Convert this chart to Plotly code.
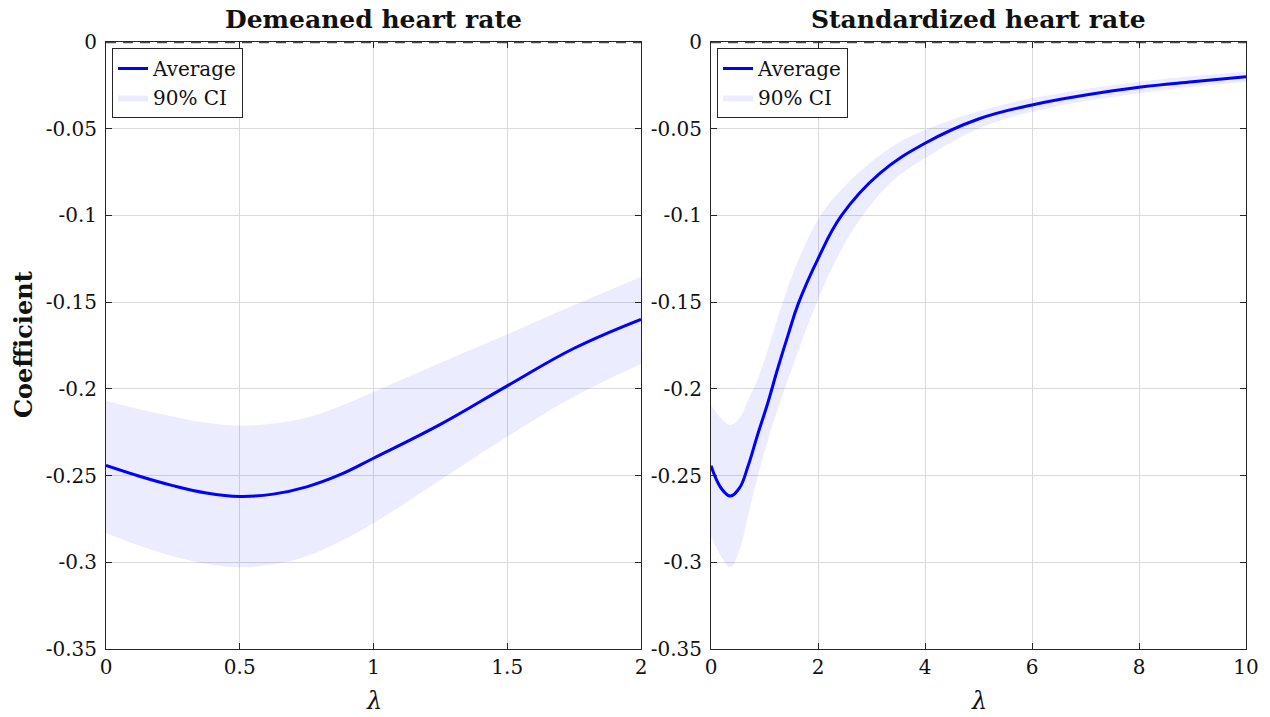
import plotly.graph_objects as go

# ---------------- data ----------------
# Demeaned heart rate (left panel)
lam_left = [0, 0.125, 0.25, 0.375, 0.5, 0.625, 0.75, 0.875, 1.0, 1.25, 1.5, 1.75, 2.0]
avg_left = [-0.2442, -0.2504, -0.2558, -0.2600, -0.2620, -0.2607, -0.2565, -0.2495, -0.2400,
            -0.2205, -0.1983, -0.1766, -0.1599]
upper_left = [-0.2067, -0.2118, -0.2159, -0.2195, -0.2211, -0.2200, -0.2165, -0.2100, -0.2018,
              -0.1850, -0.1685, -0.1517, -0.1353]
lower_left = [-0.2831, -0.2905, -0.2965, -0.3008, -0.3029, -0.3012, -0.2965, -0.2880, -0.2775,
              -0.2525, -0.2276, -0.2045, -0.1857]

# Standardized heart rate (right panel)
lam_avg_right = [0, 0.19, 0.36, 0.53, 0.69, 0.87, 1.06, 1.25, 1.45, 1.63, 2.0, 2.44, 3.16, 4, 5, 6, 7, 8, 9, 10]
avg_right = [-0.2444, -0.2573, -0.2618, -0.2573, -0.2448, -0.2266, -0.2083, -0.1880, -0.1680, -0.1510,
             -0.1250, -0.1000, -0.0756, -0.0584, -0.0444, -0.0363, -0.0306, -0.0261, -0.0229, -0.0200]
lam_up_right = [0, 0.19, 0.36, 0.53, 0.69, 0.85, 1.0, 1.34, 1.7, 2.05, 2.5, 3.16, 3.59, 4, 5, 6, 8, 10]
upper_right = [-0.2093, -0.2170, -0.2208, -0.2170, -0.2065, -0.1960, -0.1834, -0.1500, -0.1210,
               -0.1000, -0.0830, -0.0652, -0.0565, -0.0507, -0.0400, -0.0325, -0.0229, -0.0171]
lam_lo_right = [0, 0.19, 0.36, 0.53, 0.69, 0.87, 1.06, 1.3, 1.53, 1.98, 2.4, 2.84, 3.4, 4, 5, 6, 8, 10]
lower_right = [-0.2852, -0.2967, -0.3029, -0.2930, -0.2737, -0.2510, -0.2300, -0.2070, -0.1870,
               -0.1500, -0.1220, -0.1000, -0.0800, -0.0670, -0.0500, -0.0402, -0.0295, -0.0230]

titles = ["Demeaned heart rate", "Standardized heart rate"]
y_ticks = [0, -0.05, -0.1, -0.15, -0.2, -0.25, -0.3, -0.35]
y_ticktext = ["0", "-0.05", "-0.1", "-0.15", "-0.2", "-0.25", "-0.3", "-0.35"]
x_ticks_left = [0, 0.5, 1, 1.5, 2]
x_ticks_right = [0, 2, 4, 6, 8, 10]

# ---------------- style ----------------
W, H = 1270, 717
FONT = "DejaVu Serif"
BLUE = "rgb(0,0,255)"
BAND = "rgba(0,0,255,0.075)"
AX = "#262626"
GRID = "#dadada"
SMOOTH = 1.15

fig = go.Figure()

def add_panel(xa, ya, leg, lam_a, avg, lam_u, up, lam_l, lo):
    fig.add_trace(go.Scatter(x=lam_u, y=up, mode="lines",
                             line=dict(width=0, shape="spline", smoothing=SMOOTH),
                             showlegend=False, hoverinfo="skip", xaxis=xa, yaxis=ya, legend=leg))
    fig.add_trace(go.Scatter(x=lam_l, y=lo, mode="lines",
                             line=dict(width=0, shape="spline", smoothing=SMOOTH),
                             fill="tonexty", fillcolor=BAND, name="90% CI", legendrank=2,
                             xaxis=xa, yaxis=ya, legend=leg))
    fig.add_trace(go.Scatter(x=lam_a, y=avg, mode="lines",
                             line=dict(color=BLUE, width=3, shape="spline", smoothing=SMOOTH),
                             name="Average", legendrank=1, xaxis=xa, yaxis=ya, legend=leg))

add_panel("x", "y", "legend", lam_left, avg_left, lam_left, upper_left, lam_left, lower_left)
add_panel("x2", "y2", "legend2", lam_avg_right, avg_right, lam_up_right, upper_right, lam_lo_right, lower_right)

x0a, x1a = 106 / W, 641 / W
x0b, x1b = 711 / W, 1246 / W
ydom = [(H - 649) / H, (H - 42) / H]

common_axis = dict(showline=True, linecolor=AX, linewidth=1, mirror="ticks", ticks="inside",
                   ticklen=6, tickwidth=1, tickcolor=AX, showgrid=True, gridcolor=GRID, gridwidth=1,
                   zeroline=False, automargin=False,
                   tickfont=dict(family=FONT, size=20, color="#111"))

legend_style = dict(xanchor="left", yanchor="top", bgcolor="white", bordercolor=AX, borderwidth=1,
                    font=dict(family=FONT, size=20, color="#111"), itemwidth=30,
                    tracegroupgap=0, traceorder="normal")

fig.update_layout(
    width=W, height=H, autosize=False, margin=dict(l=0, r=0, t=0, b=0, pad=0, autoexpand=False),
    paper_bgcolor="white", plot_bgcolor="white", showlegend=True,
    xaxis=dict(domain=[x0a, x1a], range=[0, 2], tickvals=x_ticks_left, anchor="y", **common_axis),
    yaxis=dict(domain=ydom, range=[-0.35, 0], tickvals=y_ticks, ticktext=y_ticktext, anchor="x",
               ticklabelstandoff=4, **common_axis),
    xaxis2=dict(domain=[x0b, x1b], range=[0, 10], tickvals=x_ticks_right, anchor="y2", **common_axis),
    yaxis2=dict(domain=ydom, range=[-0.35, 0], tickvals=y_ticks, ticktext=y_ticktext, anchor="x2",
                ticklabelstandoff=4, **common_axis),
    legend=dict(x=112 / W, y=1 - 48 / H, **legend_style),
    legend2=dict(x=717 / W, y=1 - 48 / H, **legend_style),
)

# zero reference lines
for xr, yr in (("x", "y"), ("x2", "y2")):
    fig.add_shape(type="line", xref=f"{xr} domain", yref=yr, x0=0, x1=1, y0=0, y1=0,
                  line=dict(color="rgba(30,30,30,0.8)", width=2.5, dash="10px,7px"), layer="above")

# titles and axis labels
for xc, t in ((373.5 / W, titles[0]), (978.5 / W, titles[1])):
    fig.add_annotation(x=xc, y=1 - 19 / H, xref="paper", yref="paper", text=f"<b>{t}</b>",
                       showarrow=False, xanchor="center", yanchor="middle",
                       font=dict(family=FONT, size=25, color="#111"))
    fig.add_annotation(x=xc, y=1 - 701 / H, xref="paper", yref="paper", text="<i>λ</i>",
                       showarrow=False, xanchor="center", yanchor="middle",
                       font=dict(family=FONT, size=24, color="#111"))

fig.add_annotation(x=23 / W, y=1 - 345 / H, xref="paper", yref="paper", text="<b>Coefficient</b>",
                   showarrow=False, textangle=-90, xanchor="center", yanchor="middle",
                   font=dict(family=FONT, size=24, color="#111"))

fig.write_html("out.html")
